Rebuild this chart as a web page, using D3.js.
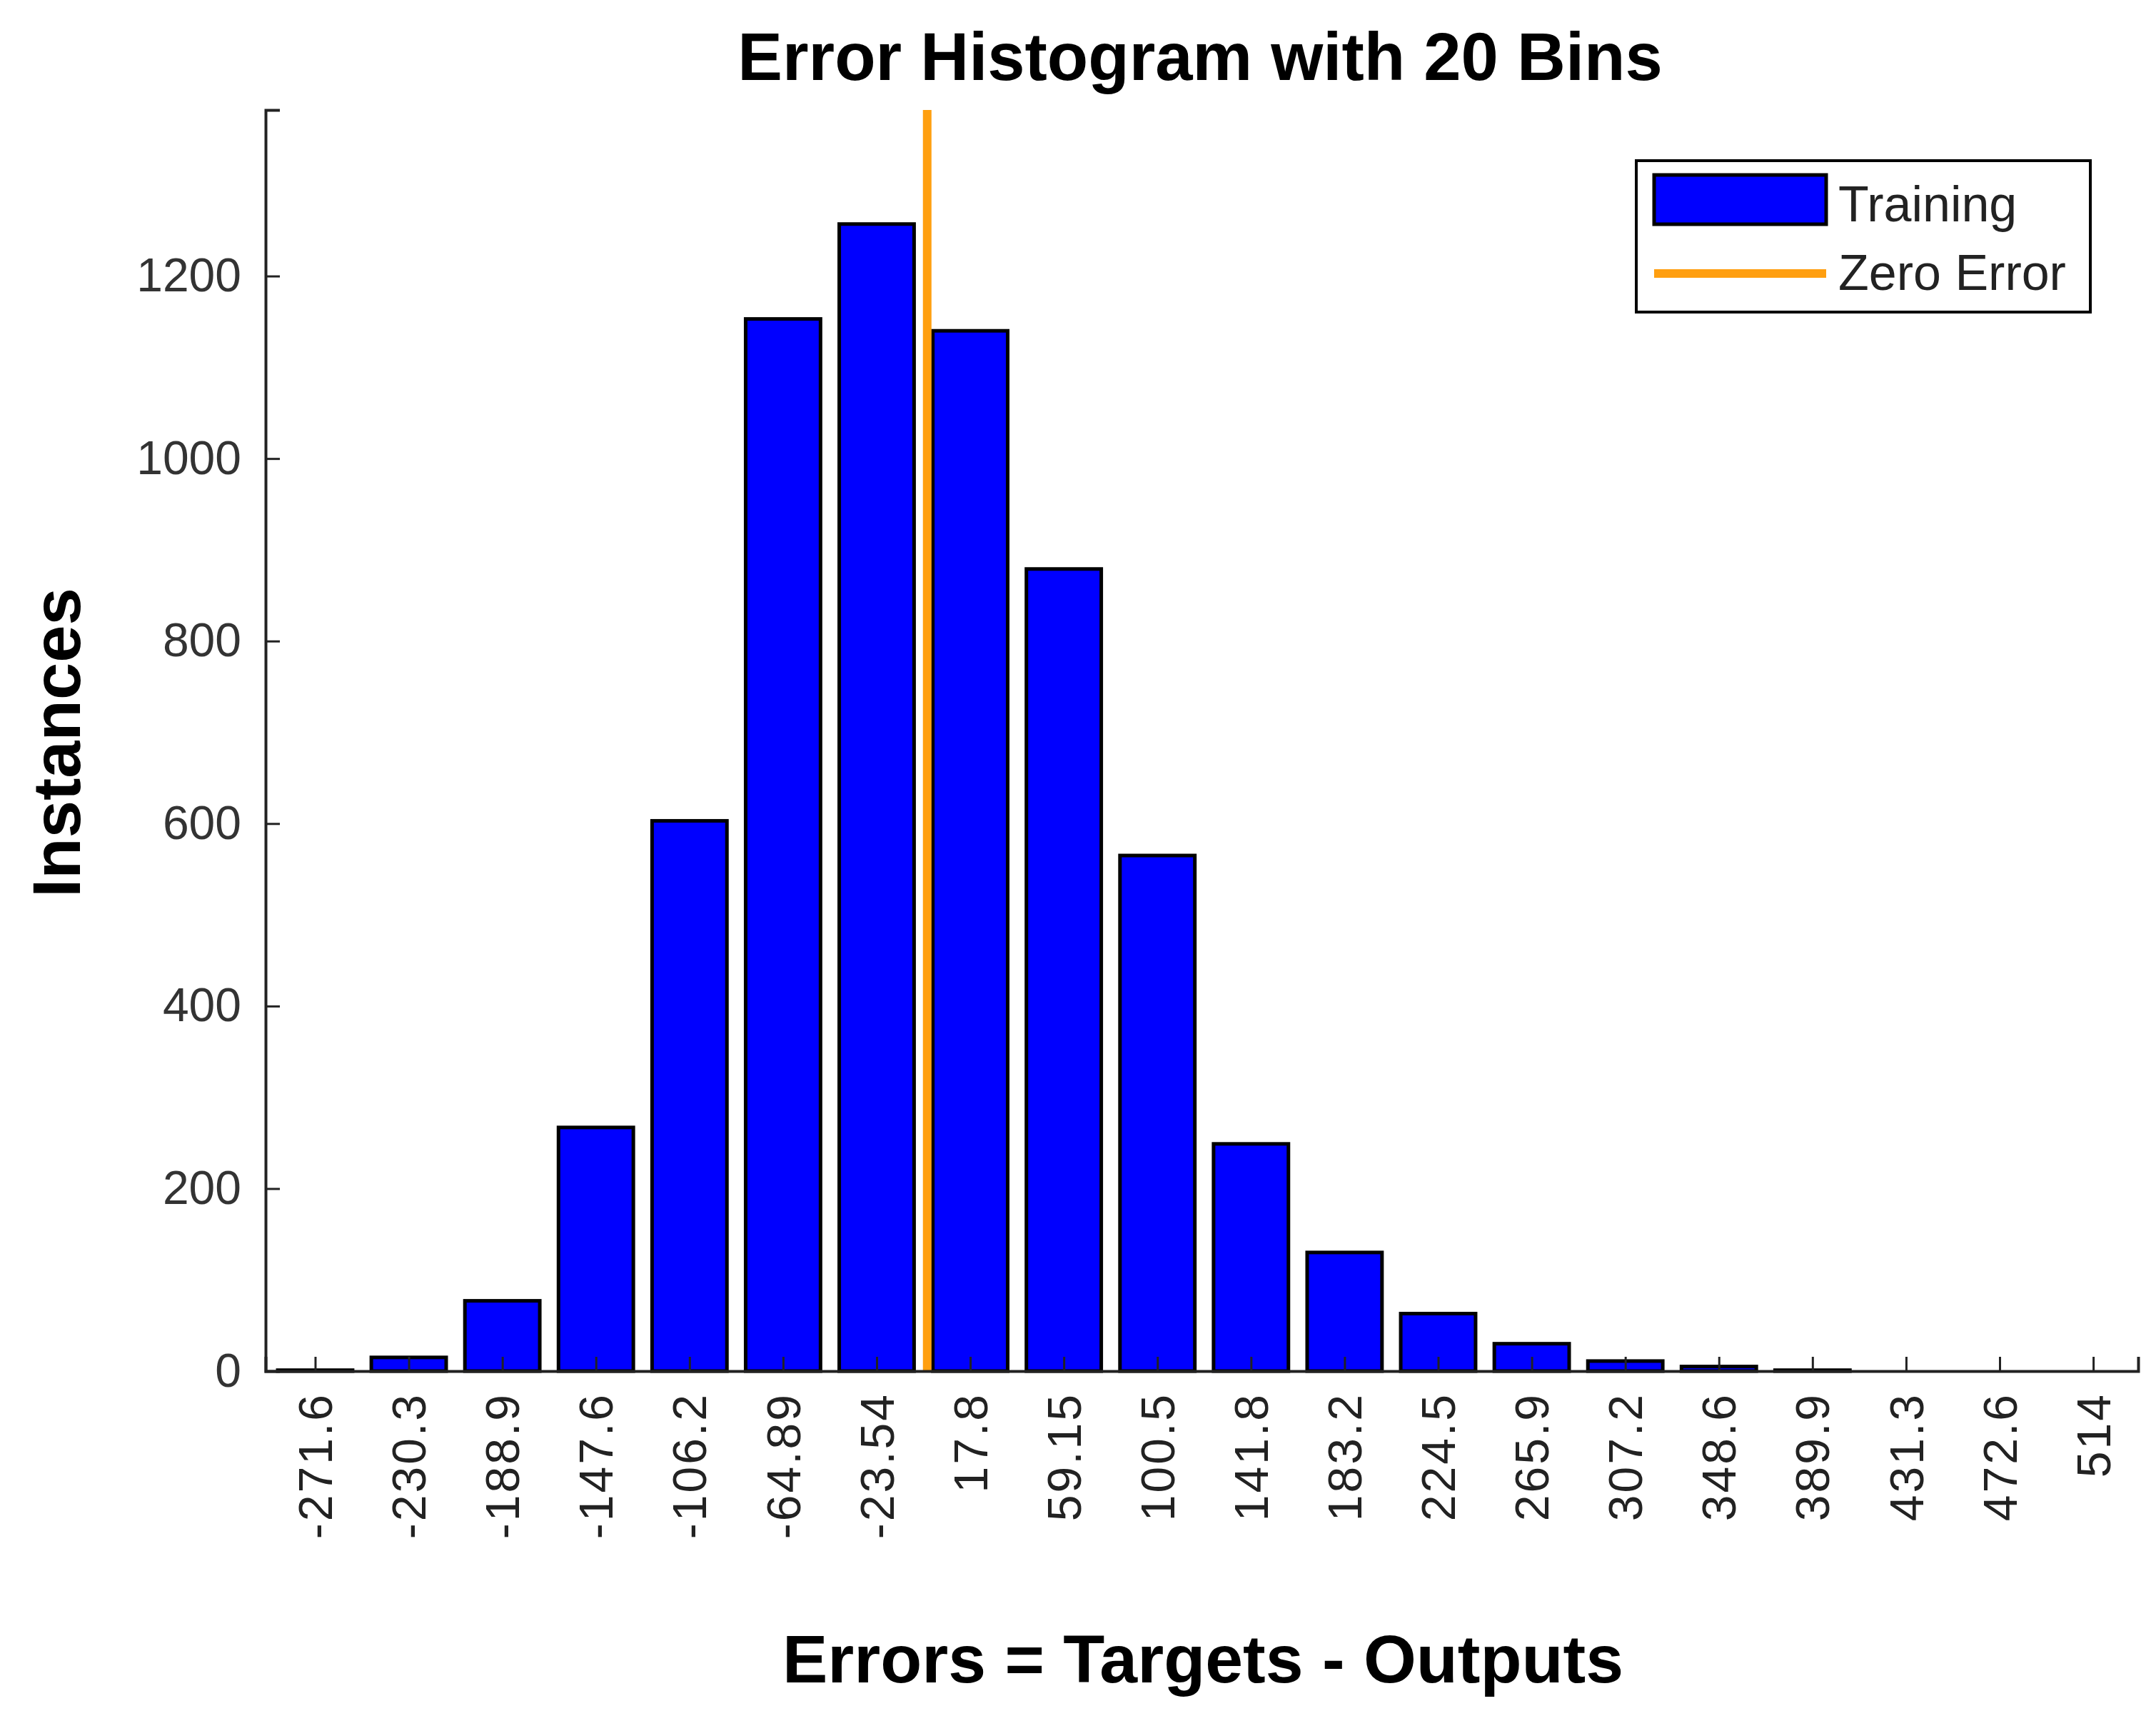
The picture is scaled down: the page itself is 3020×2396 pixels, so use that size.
<!DOCTYPE html>
<html><head><meta charset="utf-8">
<script src="https://cdn.jsdelivr.net/npm/d3@7"></script>
<style>body{margin:0;background:#fff}</style>
</head><body>
<div id="chart"></div>
<script>
// bin centres (tick labels) and counts
binLabels = ["-271.6","-230.3","-188.9","-147.6","-106.2","-64.89","-23.54","17.8","59.15","100.5","141.8","183.2","224.5","265.9","307.2","348.6","389.9","431.3","472.6","514"];
counts = [1, 15, 77, 267, 603, 1153, 1257, 1140, 879, 565, 249, 130, 63, 30, 11, 5, 1, 0, 0, 0];
yTicks = [0, 200, 400, 600, 800, 1000, 1200];
zeroIndex = 6.54; // position of zero error among the bins

W = 3020; H = 2396;
margin = ({top: 154, right: 25, bottom: 476, left: 372});
visWidth = W - margin.left - margin.right;
visHeight = H - margin.top - margin.bottom;
font = "'Liberation Sans', Arial, sans-serif";

svg = d3.select("#chart").append("svg").attr("width", W).attr("height", H);
g = svg.append("g").attr("transform", `translate(${margin.left},${margin.top})`);

x = d3.scaleLinear().domain([-0.53, counts.length - 1 + 0.48]).range([0, visWidth]);
y = d3.scaleLinear().domain([0, 1382]).range([visHeight, 0]);
bw = (x(1) - x(0)) * 0.8;

g.selectAll("rect.bar").data(counts).join("rect")
  .attr("class", "bar")
  .attr("x", (d, i) => x(i) - bw / 2)
  .attr("y", d => y(d))
  .attr("width", bw)
  .attr("height", d => visHeight - y(d))
  .attr("fill", "#0000ff")
  .attr("stroke", "#000").attr("stroke-width", 5);

// zero error line
g.append("line")
  .attr("x1", x(zeroIndex)).attr("x2", x(zeroIndex))
  .attr("y1", 0).attr("y2", visHeight)
  .attr("stroke", "#ff9f10").attr("stroke-width", 12);

// axes
xa = g.append("g").attr("transform", `translate(0,${visHeight})`)
  .call(d3.axisBottom(x).tickValues(d3.range(counts.length)).tickFormat(i => binLabels[i]).tickSize(-20).tickPadding(0));
xa.select(".domain").attr("stroke-width", 4).attr("stroke", "#222");
xa.selectAll(".tick line").attr("stroke-width", 3).attr("stroke", "#222");
xa.selectAll("text")
  .attr("transform", "rotate(-90)")
  .attr("x", -30).attr("y", 0).attr("dy", "0.35em")
  .style("text-anchor", "end")
  .attr("font-family", font).attr("font-size", 66).attr("letter-spacing", 3).attr("fill", "#222");

ya = g.append("g")
  .call(d3.axisLeft(y).tickValues(yTicks).tickFormat(d3.format("d")).tickSize(-20).tickPadding(34));
ya.select(".domain").attr("stroke-width", 4).attr("stroke", "#222");
ya.selectAll(".tick line").attr("stroke-width", 3).attr("stroke", "#222");
ya.selectAll("text").attr("font-family", font).attr("font-size", 66).attr("fill", "#333");

// titles
svg.append("text").text("Error Histogram with 20 Bins")
  .attr("x", 1681).attr("y", 112).attr("text-anchor", "middle")
  .attr("font-family", font).attr("font-weight", "bold").attr("font-size", 94);
svg.append("text").text("Errors = Targets - Outputs")
  .attr("x", 1685).attr("y", 2356).attr("text-anchor", "middle")
  .attr("font-family", font).attr("font-weight", "bold").attr("font-size", 95);
svg.append("text").text("Instances")
  .attr("transform", "translate(112,1040) rotate(-90)").attr("text-anchor", "middle")
  .attr("font-family", font).attr("font-weight", "bold").attr("font-size", 94);

// legend
leg = svg.append("g");
leg.append("rect").attr("x", 2292).attr("y", 225).attr("width", 636).attr("height", 212)
  .attr("fill", "#fff").attr("stroke", "#000").attr("stroke-width", 4);
leg.append("rect").attr("x", 2317).attr("y", 245).attr("width", 241).attr("height", 69)
  .attr("fill", "#0000ff").attr("stroke", "#000").attr("stroke-width", 5);
leg.append("line").attr("x1", 2317).attr("x2", 2558).attr("y1", 383).attr("y2", 383)
  .attr("stroke", "#ff9f10").attr("stroke-width", 12);
leg.selectAll("text.lt").data(["Training", "Zero Error"]).join("text")
  .attr("class", "lt").text(d => d)
  .attr("x", 2575).attr("y", (d, i) => 310 + i * 96)
  .attr("font-family", font).attr("font-size", 70).attr("fill", "#222");
</script>
</body></html>
